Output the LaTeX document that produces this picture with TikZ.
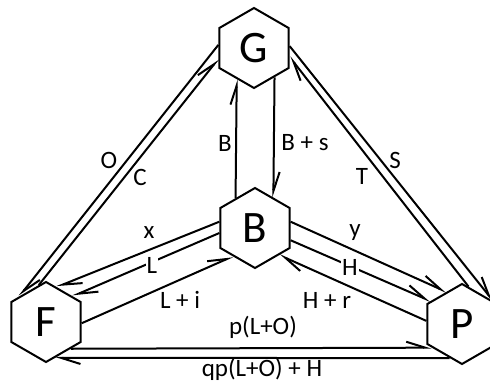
\documentclass[tikz,border=0pt]{standalone}
\usepackage{fontspec}
\setmainfont{Carlito}
\usetikzlibrary{shapes.geometric,arrows.meta}
\tikzset{
  hexnode/.style={draw, fill=white, line width=2pt, regular polygon, regular polygon sides=6,
    shape border rotate=30, minimum size=80pt, inner sep=0pt, font=\fontsize{45}{45}\selectfont},
  flow/.style={line width=2pt, -{Straight Barb[harpoon,length=19pt,width=12pt]}},
  lbl/.style={inner sep=1pt, font=\fontsize{25}{25}\selectfont},
  gaplbl/.style={lbl, fill=white}
}
\begin{document}
\begin{tikzpicture}[x=1pt,y=-1pt]
        \useasboundingbox (0,0) rectangle (490,383);
        % the four agents
        \node[hexnode] (G) at (254,48) {G};
        \node[hexnode] (B) at (255,228) {B};
        \node[hexnode] (F) at (46,322) {F};
        \node[hexnode] (P) at (462,324) {P};
        % G <-> B
        \draw[flow] (B.123) -- (G.-119);
        \draw[flow] (G.-55) -- (B.59);
        % G <-> F
        \draw[flow] (G.175) -- (F.136);
        \draw[flow] (F.101) -- (G.197);
        % G <-> P
        \draw[flow] (G.3) -- (P.37);
        \draw[flow] (P.80) -- (G.-14);
        % B <-> F
        \draw[flow] (B.170) -- (F.73);
        \draw[flow] (B.188) -- (F.44);
        \draw[flow] (F.-2) -- (B.232);
        % B <-> P
        \draw[flow] (B.10) -- (P.116);
        \draw[flow] (B.-19) -- (P.144);
        \draw[flow] (P.175) -- (B.-48);
        % F <-> P
        \draw[flow] (F.-47) -- (P.-142);
        \draw[flow] (P.-110) -- (F.-76);
        % labels
        \node[lbl] (lB) at (225,143) {B};
        \node[lbl] (lBs) at (305,143) {B + s};
        \node[lbl] (lO) at (109,160) {O};
        \node[lbl] (lC) at (140,177) {C};
        \node[lbl] (lT) at (362,176) {T};
        \node[lbl] (lS) at (395,160) {S};
        \node[lbl] (lx) at (149,233) {x};
        \node[gaplbl] (lL) at (152,265) {L};
        \node[lbl] (lLi) at (180,300) {L + i};
        \node[lbl] (ly) at (355,233) {y};
        \node[gaplbl] (lH) at (350,267) {H};
        \node[lbl] (lHr) at (327,300) {H + r};
        \node[lbl] (lp) at (263,327) {p(L+O)};
        \node[lbl] (lq) at (262,369) {qp(L+O) + H};
\end{tikzpicture}
\end{document}
